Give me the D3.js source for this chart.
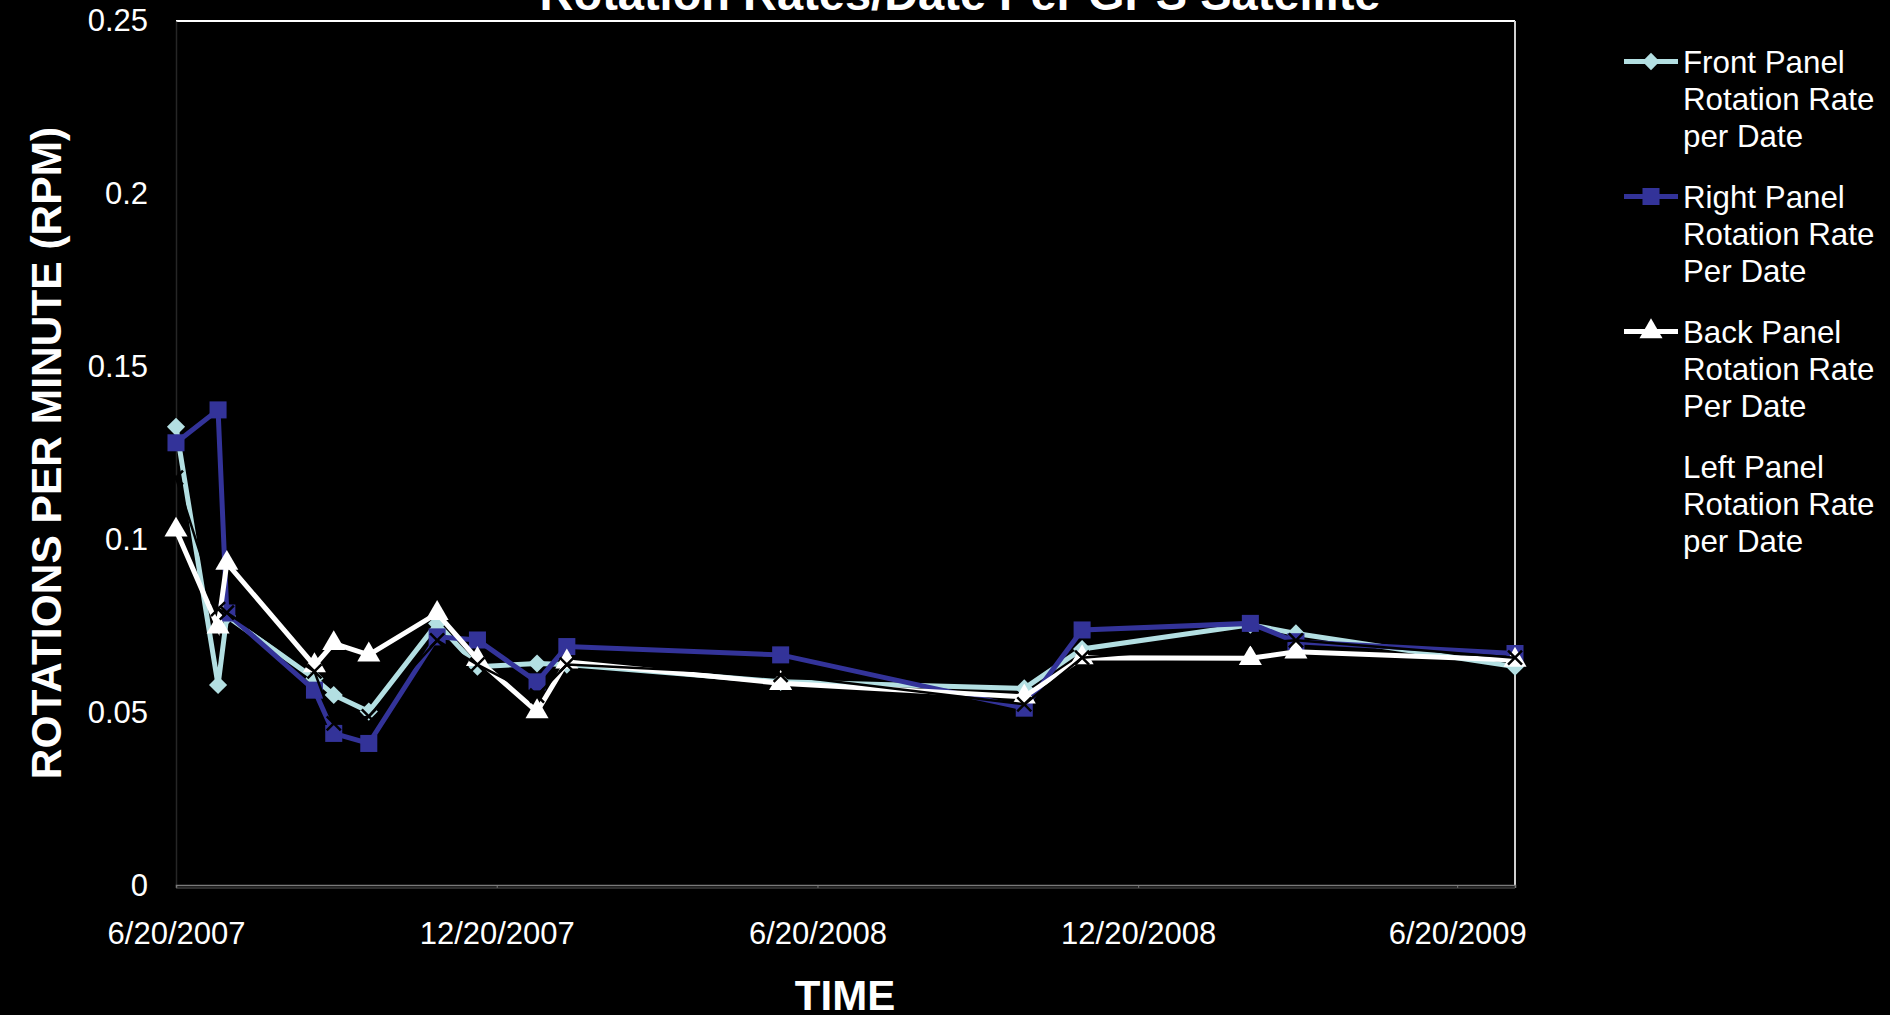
<!DOCTYPE html>
<html>
<head>
<meta charset="utf-8">
<script src="https://cdn.jsdelivr.net/npm/d3@7"></script>
<style>
  html, body { margin: 0; padding: 0; background: #000; }
  svg { display: block; }
  text { font-family: "Liberation Sans", Arial, sans-serif; fill: #fff; }
</style>
</head>
<body>
<svg id="chart" width="1890" height="1015"></svg>
<script>
// ---- data ----
const dates = ["6/20/2007","7/14/2007","7/19/2007","9/7/2007","9/18/2007","10/8/2007","11/16/2007","12/9/2007",
               "1/12/2008","1/29/2008","5/30/2008","10/16/2008","11/18/2008","2/22/2009","3/20/2009","7/23/2009"];
const frontPanel = [0.1327,0.0581,0.0780,0.0600,0.0552,0.0504,0.0759,0.0634,0.0643,0.0640,0.0590,0.0571,0.0685,0.0755,0.0730,0.0634];
const rightPanel = [0.1281,0.1376,0.0789,0.0566,0.0441,0.0412,0.0720,0.0711,0.0590,0.0692,0.0668,0.0514,0.0740,0.0759,0.0706,0.0672];
const backPanel  = [0.1029,0.0749,0.0933,0.0637,0.0701,0.0668,0.0788,0.0655,0.0504,0.0648,0.0586,0.0547,0.0660,0.0658,0.0677,0.0653];
const leftPanel  = [0.1180,0.0800,0.0790,0.0620,0.0470,0.0490,0.0710,0.0640,0.0550,0.0640,0.0610,0.0525,0.0660,0.0700,0.0710,0.0660];
const seriesNames = [["Front Panel","Rotation Rate","per Date"],["Right Panel","Rotation Rate","Per Date"],
                     ["Back Panel","Rotation Rate","Per Date"],["Left Panel","Rotation Rate","per Date"]];
const xTickLabels = ["6/20/2007","12/20/2007","6/20/2008","12/20/2008","6/20/2009"];
const yTicks = [0,0.05,0.1,0.15,0.2,0.25];
const xDomain = ["6/20/2007","7/23/2009"];
const titleText = "Rotation Rates/Date Per GPS Satellite";

// ---- setup ----
const parse = d3.timeParse("%m/%d/%Y");
const svg = d3.select("#chart");
const L = 176, R = 1515, T = 21, B = 886;

const x = d3.scaleTime().domain(xDomain.map(parse)).range([L, R]);
const y = d3.scaleLinear().domain([0, 0.25]).range([B, T]);

// plot border
svg.append("line").attr("x1", L).attr("x2", R).attr("y1", T).attr("y2", T).attr("stroke", "#fff").attr("stroke-width", 2);
svg.append("line").attr("x1", R).attr("x2", R).attr("y1", T).attr("y2", B).attr("stroke", "#d0d0d0").attr("stroke-width", 2);

// y axis
const yAxis = d3.axisLeft(y).tickValues(yTicks).tickSize(0).tickPadding(28)
  .tickFormat(d => d === 0 ? "0" : String(+d.toFixed(2)));
const gy = svg.append("g").attr("transform", `translate(${L},0)`).call(yAxis);
gy.select(".domain").attr("stroke", "#262626").attr("stroke-width", 1.5);
gy.selectAll("text").attr("font-size", 31).attr("fill", "#fff")
  .attr("font-family", "'Liberation Sans', Arial, sans-serif");

// x axis
const xAxis = d3.axisBottom(x).tickValues(xTickLabels.map(parse)).tickSize(3).tickPadding(34)
  .tickFormat(d3.timeFormat("%-m/%-d/%Y"));
const gx = svg.append("g").attr("transform", `translate(0,${B - 1})`).call(xAxis);
gx.select(".domain").attr("stroke", "#7a7a7a").attr("stroke-width", 1.5);
gx.selectAll(".tick line").attr("stroke", "#7a7a7a");
gx.selectAll("text").attr("font-size", 31).attr("fill", "#fff")
  .attr("font-family", "'Liberation Sans', Arial, sans-serif");
svg.append("line").attr("x1", L).attr("x2", R).attr("y1", B + 2).attr("y2", B + 2)
  .attr("stroke", "#5a5a5a").attr("stroke-width", 1);

// titles
svg.append("text").attr("x", 960).attr("y", 10).attr("text-anchor", "middle")
  .attr("font-size", 47).attr("font-weight", "bold").text(titleText);
svg.append("text").attr("transform", "translate(61,453) rotate(-90)").attr("text-anchor", "middle")
  .attr("font-size", 42.5).attr("font-weight", "bold").text("ROTATIONS PER MINUTE (RPM)");
svg.append("text").attr("x", 845).attr("y", 1010).attr("text-anchor", "middle")
  .attr("font-size", 42).attr("font-weight", "bold").text("TIME");

// series
const series = [
  { values: frontPanel, color: "#b3dfe2", width: 5, marker: "diamond", size: 300 },
  { values: rightPanel, color: "#333399", width: 5, marker: "square", size: 290 },
  { values: backPanel,  color: "#ffffff", width: 5, marker: "triangle", size: 230 },
  { values: leftPanel,  color: "#000000", width: 2.5, marker: "x", size: 0 }
];
const symType = { diamond: d3.symbolDiamond2, square: d3.symbolSquare, triangle: d3.symbolTriangle };
const line = d3.line().x(d => x(d.date)).y(d => y(d.v));

series.forEach(s => {
  const pts = dates.map((dt, i) => ({ date: parse(dt), v: s.values[i] }));
  const g = svg.append("g");
  g.append("path").datum(pts).attr("d", line).attr("fill", "none")
    .attr("stroke", s.color).attr("stroke-width", s.width).attr("stroke-linejoin", "miter");
  if (s.marker === "x") {
    g.selectAll("path.m").data(pts).join("path").attr("class", "m")
      .attr("d", d => { const cx = x(d.date), cy = y(d.v), r = 7;
        return `M${cx-r},${cy-r}L${cx+r},${cy+r}M${cx-r},${cy+r}L${cx+r},${cy-r}`; })
      .attr("stroke", "#000").attr("stroke-width", 2.5).attr("fill", "none");
  } else {
    const sym = d3.symbol().type(symType[s.marker]).size(s.size);
    g.selectAll("path.m").data(pts).join("path").attr("class", "m")
      .attr("transform", d => `translate(${x(d.date)},${y(d.v)})`)
      .attr("d", s.marker === "diamond" ? d3.symbol().type(d3.symbolSquare).size(s.size * 0.55) : sym)
      .attr("fill", s.color)
      .each(function () {
        if (s.marker === "diamond") {
          const t = d3.select(this).attr("transform");
          d3.select(this).attr("transform", t + " rotate(45)");
        }
      });
  }
});

// legend
const legX1 = 1624, legX2 = 1678, legTextX = 1683;
const entryTop = [61.5, 196.5, 331.5, 466.5];
series.forEach((s, i) => {
  const cy = entryTop[i];
  const g = svg.append("g");
  g.append("line").attr("x1", legX1).attr("x2", legX2).attr("y1", cy).attr("y2", cy)
    .attr("stroke", s.color).attr("stroke-width", 5);
  if (s.marker !== "x") {
    const p = g.append("path").attr("fill", s.color);
    if (s.marker === "diamond") {
      p.attr("d", d3.symbol().type(d3.symbolSquare).size(150)).attr("transform", `translate(${(legX1+legX2)/2},${cy}) rotate(45)`);
    } else {
      p.attr("d", d3.symbol().type(symType[s.marker]).size(s.marker === "square" ? 290 : 230))
        .attr("transform", `translate(${(legX1+legX2)/2},${cy})`);
    }
  }
  seriesNames[i].forEach((ln, j) => {
    g.append("text").attr("x", legTextX).attr("y", cy + 11 + j * 37).attr("font-size", 31.3).text(ln);
  });
});
</script>
</body>
</html>
